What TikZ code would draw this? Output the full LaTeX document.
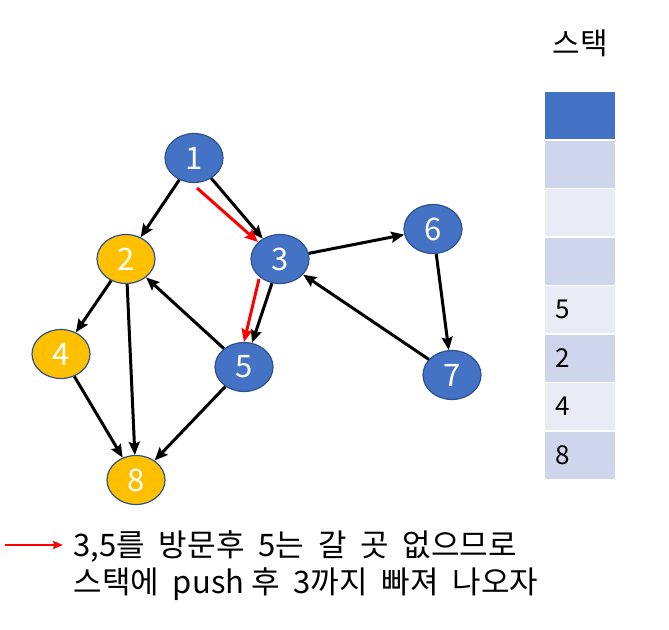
\documentclass[tikz,border=0pt]{standalone}
\usepackage{fontspec}
\setmainfont{Noto Sans CJK KR}
\usetikzlibrary{shapes.geometric,arrows.meta}
\definecolor{nblue}{HTML}{4472C4}
\definecolor{nyellow}{HTML}{FFC000}
\definecolor{nborder}{HTML}{2F528F}
\definecolor{sdark}{HTML}{CFD5EA}
\definecolor{slight}{HTML}{E9EBF5}
\tikzset{
  vtx/.style={ellipse, draw=nborder, line width=1.2pt, minimum width=58pt, minimum height=49pt, inner sep=0pt, text=white, font=\fontsize{31}{33}\selectfont},
  bluev/.style={vtx, fill=nblue},
  yellowv/.style={vtx, fill=nyellow},
  edge/.style={line width=3pt, -{Stealth[length=13pt,width=11pt,inset=2pt]}},
  redge/.style={edge, draw=red, color=red},
  cell/.style={draw=white, line width=1pt, minimum width=71pt, minimum height=48pt, inner sep=0pt, anchor=north west},
  celltext/.style={anchor=west, font=\fontsize{26}{28}\selectfont, text=black},
  txt/.style={anchor=west, font=\fontsize{31}{34}\selectfont, text=black}
}
\begin{document}
\begin{tikzpicture}[x=1pt,y=-1pt]
\useasboundingbox (0,0) rectangle (669,629);
\fill[white] (0,0) rectangle (669,629);
% nodes
\node[bluev] (n1) at (194,158) {1};
\node[yellowv] (n2) at (126,259) {2};
\node[bluev] (n3) at (280,259) {3};
\node[yellowv] (n4) at (61,354) {4};
\node[bluev] (n5) at (244,367) {5};
\node[bluev] (n6) at (433,229) {6};
\node[bluev] (n7) at (452,375) {7};
\node[yellowv] (n8) at (136,480) {8};
% edges
\draw[edge] (n1) -- (n2);
\draw[edge] (n1) -- (n3);
\draw[edge] (n2) -- (n4);
\draw[edge] (n2) -- (n8);
\draw[edge] (n4) -- (n8);
\draw[edge] (n5) -- (n2);
\draw[edge] (n5) -- (n8);
\draw[edge] (n3) -- (n5);
\draw[edge] (n3) -- (n6);
\draw[edge] (n7) -- (n3);
\draw[edge] (n6) -- (n7);
% red arrows
\coordinate (ra1) at (197,188);
\coordinate (ra2) at (258,242);
\coordinate (rb1) at (259,279);
\coordinate (rb2) at (244,342);
\draw[redge] (ra1) -- (ra2);
\draw[redge] (rb1) -- (rb2);
% stack
\node[font=\fontsize{30}{32}\selectfont] (title) at (580,43) {스택};
\node[cell, fill=nblue] (s1) at (544,91) {};
\node[cell, fill=sdark] (s2) at (544,140) {};
\node[cell, fill=slight] (s3) at (544,188) {};
\node[cell, fill=sdark] (s4) at (544,237) {};
\node[cell, fill=slight] (s5) at (544,285) {};
\node[cell, fill=sdark] (s6) at (544,334) {};
\node[cell, fill=slight] (s7) at (544,382) {};
\node[cell, fill=sdark] (s8) at (544,431) {};
\node[celltext] at ([xshift=8pt]s5.west) {5};
\node[celltext] at ([xshift=8pt]s6.west) {2};
\node[celltext] at ([xshift=8pt]s7.west) {4};
\node[celltext] at ([xshift=8pt]s8.west) {8};
% legend
\coordinate (la) at (5,545);
\coordinate (lb) at (63,545);
\draw[red, line width=2.2pt, -{Stealth[length=10pt,width=8pt,inset=1.5pt]}] (la) -- (lb);
\node[txt] (t1) at (70,547) {3,5를\ \ 방문후\ \ 5는\ \ 갈\ \ 곳\ \ 없으므로};
\node[txt] (t2) at (70,584) {스택에\ \ push\ 후\ \ 3까지\ \ 빠져\ \ 나오자};
\end{tikzpicture}
\end{document}
